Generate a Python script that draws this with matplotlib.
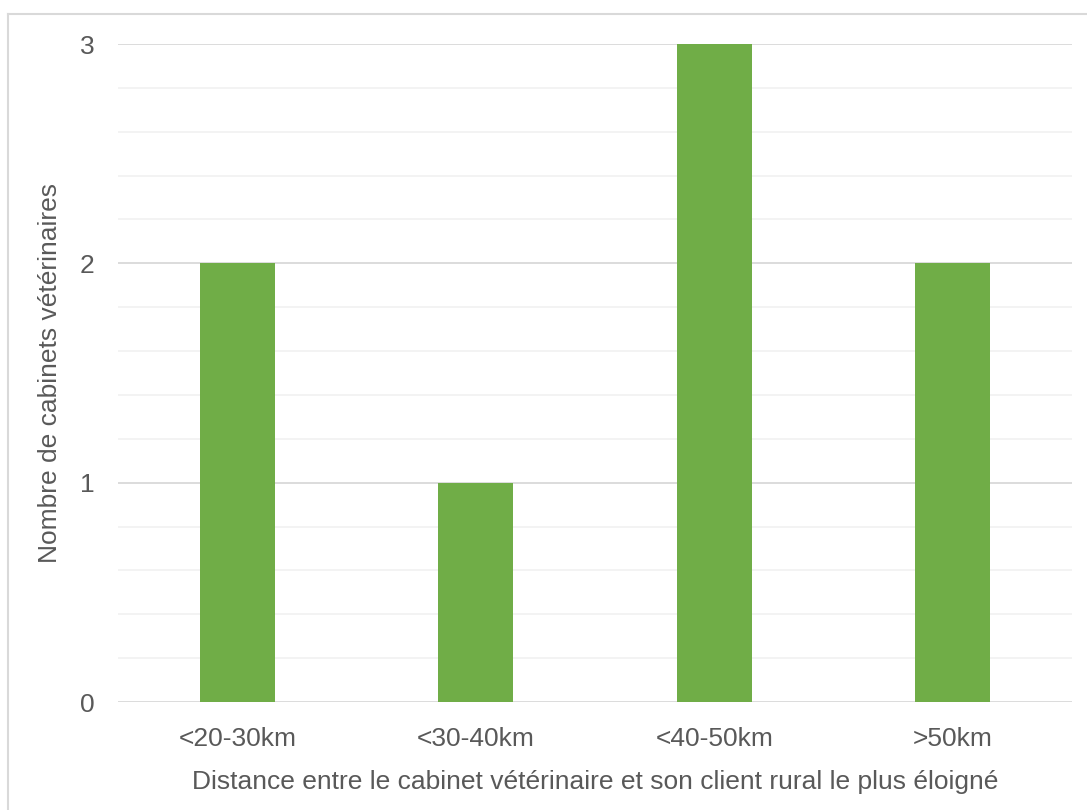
import matplotlib.pyplot as plt
import numpy as np
from matplotlib.ticker import MultipleLocator

categories = ['<20-30km', '<30-40km', '<40-50km', '>50km']
values = [2, 1, 3, 2]

plt.rcParams['font.family'] = ['Liberation Sans', 'DejaVu Sans']

fig = plt.figure(figsize=(10.87, 8.10), dpi=100)
ax = fig.add_axes([118/1087, 1 - 702/810, (1072-118)/1087, (702-44)/810])

x = np.arange(len(categories))
ax.bar(x, values, width=0.315, color='#70AD47', zorder=3)

ax.set_xlim(-0.5, len(categories) - 0.5)
ax.set_ylim(0, 3)
ax.yaxis.set_major_locator(MultipleLocator(1))
ax.yaxis.set_minor_locator(MultipleLocator(0.2))
ax.grid(which='major', axis='y', color='#D9D9D9', linewidth=1.3, zorder=0)
ax.grid(which='minor', axis='y', color='#F2F2F2', linewidth=1.3, zorder=0)
ax.set_xticks(x)
ax.set_xticklabels(categories)
ax.tick_params(axis='both', which='both', length=0, labelsize=19, colors='#595959')
ax.tick_params(axis='y', pad=17)
ax.tick_params(axis='x', pad=18)
for s in ax.spines.values():
    s.set_visible(False)

ax.set_xlabel('Distance entre le cabinet vétérinaire et son client rural le plus éloigné',
              fontsize=19, color='#595959', labelpad=14)
ax.set_ylabel('Nombre de cabinets vétérinaires', fontsize=19, color='#595959', labelpad=13)

# bordure du graphique (haut et gauche)
fig.add_artist(plt.Line2D([8/1087, 1], [1 - 14/810, 1 - 14/810], color='#D9D9D9', linewidth=1.5))
fig.add_artist(plt.Line2D([8/1087, 8/1087], [0, 1 - 14/810], color='#D9D9D9', linewidth=1.5))

fig.savefig('out.png', dpi=100)
